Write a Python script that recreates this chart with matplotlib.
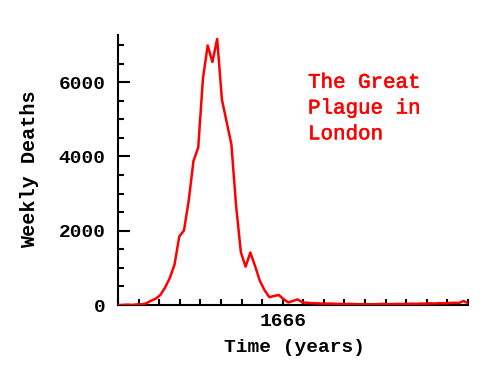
"""
Great Plague of London - weekly deaths, 1665-1666.
"""
import matplotlib
matplotlib.use("Agg")
import matplotlib.pyplot as plt
import matplotlib.patheffects as pe
from matplotlib.ticker import MultipleLocator, FixedLocator
import numpy as np

# ── Data (weekly plague deaths) ─────────────────────────────────────────────
start_year = 1665.332          # week of 25 April 1665
week = 7 / 365.0
deaths = [
    0, 0, 9, 3, 14, 17, 43, 112, 168, 267, 470, 725, 1089, 1843, 2010,
    2817, 3880, 4237, 6102, 6988, 6544, 7165, 5533, 4929, 4327, 2665,
    1421, 1031, 1414, 1050, 652, 400, 210, 243, 270, 160, 70, 110, 150,
    70, 60, 50, 45, 40, 35, 40, 30, 30, 25, 30, 25, 20, 25, 20, 20, 25,
    30, 20, 25, 30, 25, 30, 35, 30, 40, 35, 45, 40, 50, 45, 55, 60, 50,
    110, 40,
]
years = start_year + np.arange(len(deaths)) * week

x_major = [1666]
x_labels = ["1666"]

FONT = "Liberation Mono"

fig = plt.figure(figsize=(4.91, 3.82), dpi=100)
fig.patch.set_facecolor("white")
ax = fig.add_axes([118 / 491, 1 - 305 / 382, 350 / 491, 270 / 382])

# line sits on top of the axis lines, as in the original
ax.plot(years, deaths, color="#ff0000", lw=1.8, zorder=3)

ax.set_xlim(1665 + 4 / 12, 1666 + 9 / 12)
ax.set_ylim(0, 7270)

# axes look: only left + bottom, thick, ticks pointing inward
for side in ("top", "right"):
    ax.spines[side].set_visible(False)
for side in ("left", "bottom"):
    ax.spines[side].set_linewidth(1.5)

ax.xaxis.set_major_locator(FixedLocator(x_major))
ax.set_xticklabels(x_labels)
ax.xaxis.set_minor_locator(MultipleLocator(1 / 12))
ax.yaxis.set_major_locator(MultipleLocator(2000))
ax.yaxis.set_minor_locator(MultipleLocator(500))

ax.tick_params(axis="both", which="both", direction="in", width=1.5,
               color="black")
ax.tick_params(axis="x", which="both", length=4.3, pad=6)
ax.tick_params(axis="y", which="major", length=8.6, pad=9)
ax.tick_params(axis="y", which="minor", length=4.3)

for lab in ax.get_xticklabels() + ax.get_yticklabels():
    lab.set_fontfamily(FONT)
    lab.set_fontweight("bold")
    lab.set_fontsize(14)

fig.text(30 / 491, 1 - 169 / 382, "Weekly Deaths", rotation=90,
         ha="center", va="center", family=FONT, fontweight="bold",
         fontsize=14.5)
fig.text(295 / 491, 1 - 347 / 382, "Time (years)", ha="center",
         va="center", family=FONT, fontweight="bold", fontsize=14)

ax.text(0.543, 0.86, "The Great\nPlague in\nLondon", transform=ax.transAxes,
        ha="left", va="top", color="#ff0000", family=FONT, fontsize=15,
        linespacing=1.45,
        path_effects=[pe.withStroke(linewidth=0.4, foreground="#ff0000")])

plt.savefig("out.png", dpi=100, facecolor="white")
plt.close()
